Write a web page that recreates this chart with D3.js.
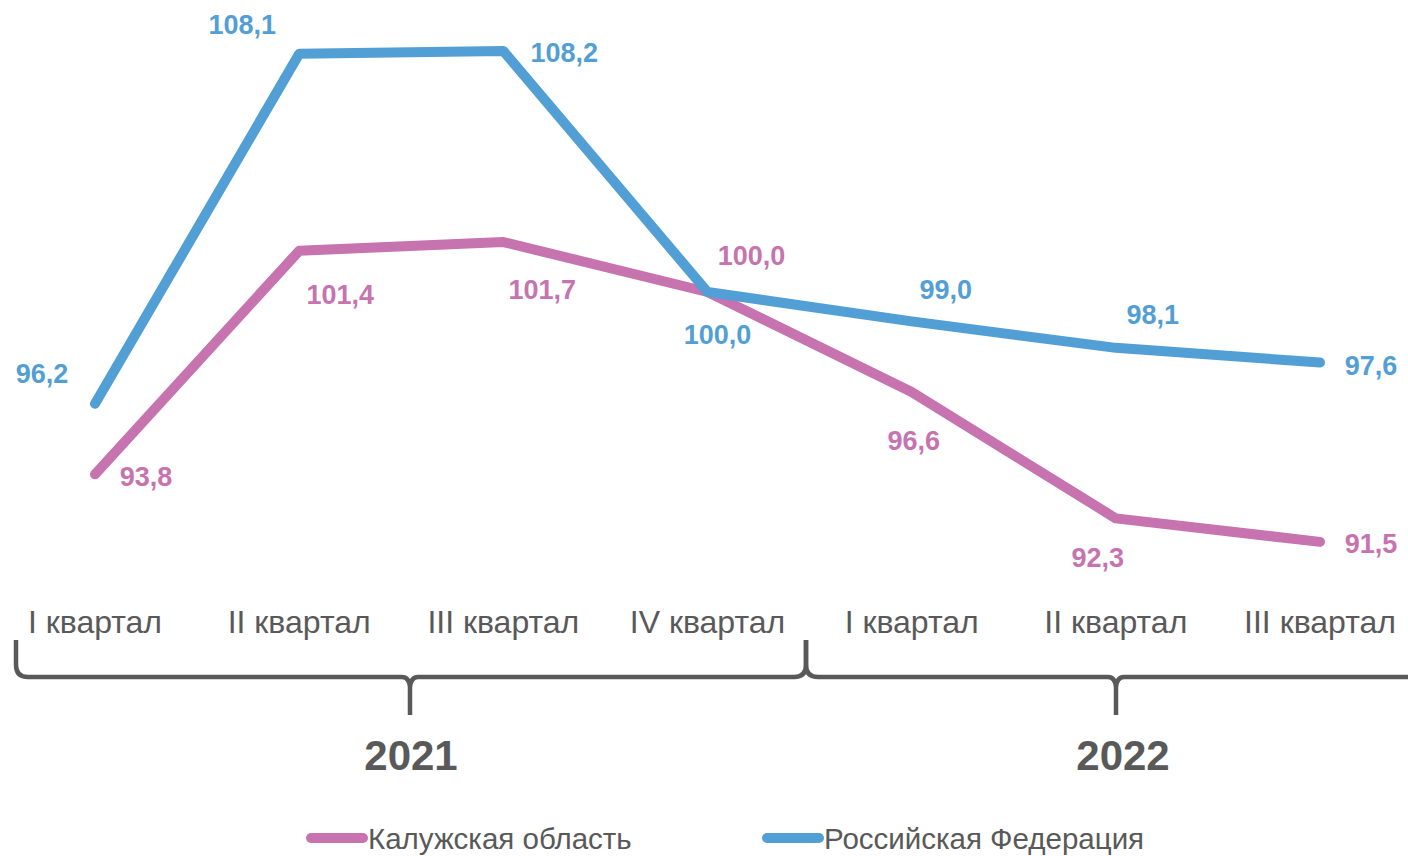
<!DOCTYPE html>
<html><head><meta charset="utf-8">
<script src="https://cdn.jsdelivr.net/npm/d3@7"></script>
<style>
html,body{margin:0;padding:0;background:#fff;}
svg{display:block;font-family:"Liberation Sans",Arial,sans-serif;}
</style></head>
<body>
<svg id="chart" width="1408" height="856"></svg>
<script>
const quarters = ["I квартал","II квартал","III квартал","IV квартал","I квартал","II квартал","III квартал"];
const kaluga = [93.8,101.4,101.7,100.0,96.6,92.3,91.5];
const russia = [96.2,108.1,108.2,100.0,99.0,98.1,97.6];
const seriesNames = ["Калужская область","Российская Федерация"];
const years = ["2021","2022"];

const colors = {kaluga:"#C673AF", russia:"#529FD6", text:"#595959"};
// label offsets (dx, dy of label centre from point)
const kalugaOff = [[51,2],[41,44],[39,48],[44,-36],[2,49],[-18,39],[51,2]];
const russiaOff = [[-53,-30],[-57,-29],[61,2],[10,43],[34,-32],[37,-33],[51,3]];

const svg = d3.select("#chart");
const x = d3.scalePoint().domain(d3.range(quarters.length)).range([95,1320]);
const y = d3.scaleLinear().domain([90,110]).range([586,-2]);

const line = d3.line().x((d,i)=>x(i)).y(d=>y(d));

function drawSeries(vals, color){
  svg.append("path").datum(vals).attr("d",line)
    .attr("fill","none").attr("stroke",color).attr("stroke-width",10)
    .attr("stroke-linejoin","round").attr("stroke-linecap","round");
}
drawSeries(kaluga, colors.kaluga);
drawSeries(russia, colors.russia);

function drawLabels(vals, color, offs){
  svg.append("g").selectAll("text").data(vals).join("text")
    .attr("x",(d,i)=>x(i)+offs[i][0])
    .attr("y",(d,i)=>y(d)+offs[i][1])
    .attr("dy","0.35em")
    .attr("text-anchor","middle")
    .attr("font-weight","bold").attr("font-size",27)
    .attr("fill",color)
    .text(d=>d.toFixed(1).replace(".",","));
}
drawLabels(kaluga, colors.kaluga, kalugaOff);
drawLabels(russia, colors.russia, russiaOff);

// quarter labels
svg.append("g").selectAll("text").data(quarters).join("text")
  .attr("x",(d,i)=>x(i)).attr("y",633)
  .attr("text-anchor","middle").attr("font-size",32).attr("fill",colors.text)
  .text(d=>d);

// braces
function brace(x0,xm,x1){
  const top=640, base=677, tip=715, r=12, m=8;
  return `M${x0},${top} L${x0},${base-r} Q${x0},${base} ${x0+r},${base} L${xm-m},${base} Q${xm-1},${base} ${xm},${base+m+2} L${xm},${tip} M${xm},${base+m+2} Q${xm+1},${base} ${xm+m},${base} L${x1-r},${base} Q${x1},${base} ${x1},${base-r} L${x1},${top}`;
}
svg.append("path").attr("d",brace(16,410,806)).attr("fill","none").attr("stroke",colors.text).attr("stroke-width",4.5);
svg.append("path").attr("d",brace(806,1116,1430)).attr("fill","none").attr("stroke",colors.text).attr("stroke-width",4.5);

svg.append("g").selectAll("text").data(years).join("text")
  .attr("x",(d,i)=>[411,1123][i]).attr("y",770)
  .attr("text-anchor","middle").attr("font-weight","bold").attr("font-size",42)
  .attr("fill",colors.text).text(d=>d);

// legend
const leg = svg.append("g");
const legX = [307,763];
const legC = [colors.kaluga, colors.russia];
seriesNames.forEach((n,i)=>{
  leg.append("line").attr("x1",legX[i]+4).attr("x2",legX[i]+56).attr("y1",838).attr("y2",838)
    .attr("stroke",legC[i]).attr("stroke-width",10).attr("stroke-linecap","round");
  leg.append("text").attr("x",legX[i]+61).attr("y",849).attr("font-size",29.5).attr("fill",colors.text).text(n);
});
</script>
</body></html>
